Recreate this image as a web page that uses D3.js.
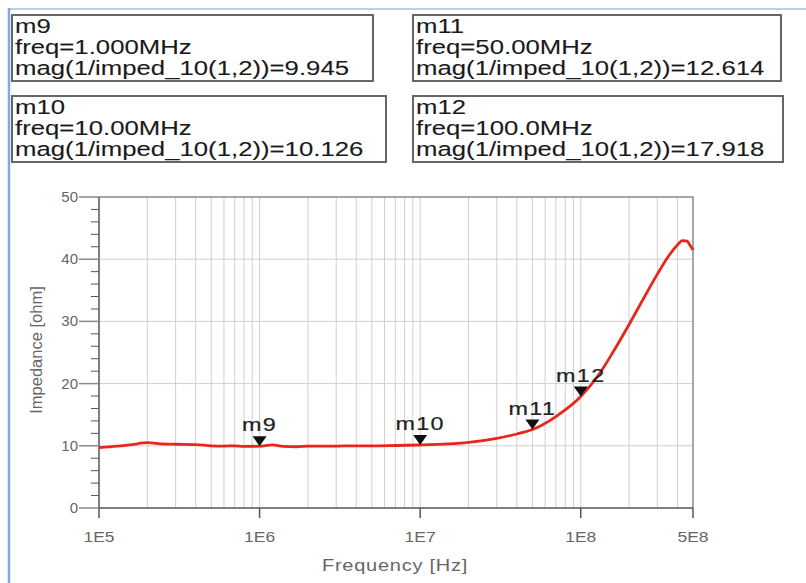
<!DOCTYPE html>
<html>
<head>
<meta charset="utf-8">
<script src="https://cdn.jsdelivr.net/npm/d3@7"></script>
<style>
  html, body { margin: 0; padding: 0; background: #fff; }
  svg { display: block; font-family: Arial, "Liberation Sans", sans-serif; }
</style>
</head>
<body>
<svg id="chart" width="806" height="583"></svg>
<script>
/* ── Data ──────────────────────────────────────────────────── */
const FREQ = [
  1e5, 1.3e5, 1.6e5, 2e5, 2.5e5, 3e5, 4e5, 5e5, 6e5, 7e5, 8e5,
  1e6, 1.2e6, 1.4e6, 1.7e6, 2e6, 3e6, 4e6, 5e6, 7e6,
  1e7, 1.5e7, 2e7, 3e7, 4e7, 5e7, 7e7,
  1e8, 1.3e8, 1.6e8, 2e8, 2.5e8, 3e8, 3.5e8, 4e8, 4.3e8, 4.6e8, 4.8e8, 5e8
];
const IMPED = [
  9.7, 9.95, 10.2, 10.5, 10.3, 10.25, 10.2, 10.0, 9.95, 10.0, 9.9,
  9.945, 10.15, 9.9, 9.85, 9.95, 9.95, 10.0, 10.0, 10.05,
  10.126, 10.3, 10.55, 11.2, 11.9, 12.614, 14.7,
  17.918, 21.5, 25.2, 29.5, 34.0, 37.6, 40.4, 42.3, 43.0, 42.9, 42.2, 41.5
];

const MARKER_NAMES = ["m9", "m10", "m11", "m12"];
const MARKER_FREQ  = [1e6, 1e7, 5e7, 1e8];
const MARKER_VAL   = [9.945, 10.126, 12.614, 17.918];
const MARKER_FTXT  = ["1.000MHz", "10.00MHz", "50.00MHz", "100.0MHz"];
const MARKER_VTXT  = ["9.945", "10.126", "12.614", "17.918"];

const X_TICKS  = [1e5, 1e6, 1e7, 1e8, 5e8];
const X_LABELS = ["1E5", "1E6", "1E7", "1E8", "5E8"];
const Y_TICKS  = [0, 10, 20, 30, 40, 50];

/* ── Layout ────────────────────────────────────────────────── */
const svg = d3.select("#chart");
const L = 99, R = 693, T = 197, B = 508;
const SX = 1.32;   /* the source screenshot is stretched horizontally */

const x = d3.scaleLog().domain([1e5, 5e8]).range([L, R]);
const y = d3.scaleLinear().domain([0, 50]).range([B, T]);

/* text helper: horizontally stretched label */
function wideText(parent, tx, ty, str, sx) {
  return parent.append("g")
    .attr("transform", `translate(${tx},${ty}) scale(${sx},1)`)
    .append("text").text(str);
}

/* window frame (blue edges) */
svg.append("line").attr("x1", 9).attr("x2", 806).attr("y1", 9).attr("y2", 9)
  .attr("stroke", "#b8cfee").attr("stroke-width", 2);
svg.append("line").attr("x1", 9).attr("x2", 9).attr("y1", 8).attr("y2", 583)
  .attr("stroke", "#86a9da").attr("stroke-width", 2.5);

/* ── Marker readout boxes ──────────────────────────────────── */
const BOX_POS = [[12, 15, 361], [12, 96, 374], [413, 15, 368], [413, 96, 370]];
MARKER_NAMES.forEach((name, i) => {
  const [bx, by, bw] = BOX_POS[i];
  const g = svg.append("g").attr("transform", `translate(${bx},${by})`);
  g.append("rect").attr("width", bw).attr("height", 66)
    .attr("fill", "#fff").attr("stroke", "#666").attr("stroke-width", 2);
  const lines = [name, "freq=" + MARKER_FTXT[i], "mag(1/imped_10(1,2))=" + MARKER_VTXT[i]];
  lines.forEach((t, k) => {
    wideText(g, 3, 18 + k * 21, t, SX)
      .attr("font-size", 19.5).attr("fill", "#1a1a1a")
      .attr("stroke", "#1a1a1a").attr("stroke-width", 0.1);
  });
});

/* ── Grid ──────────────────────────────────────────────────── */
const minor = [];
for (let d = 1e5; d < 5e8; d *= 10) {
  for (let m = 1; m <= 9; m++) {
    const f = d * m;
    if (f > 1e5 && f < 5e8) minor.push(f);
  }
}
svg.append("g").selectAll("line").data(minor).join("line")
  .attr("x1", d => x(d)).attr("x2", d => x(d))
  .attr("y1", T).attr("y2", B)
  .attr("stroke", "#cfcfcf").attr("stroke-width", 1);

svg.append("g").selectAll("line").data(Y_TICKS.slice(1, -1)).join("line")
  .attr("x1", L).attr("x2", R)
  .attr("y1", d => y(d)).attr("y2", d => y(d))
  .attr("stroke", "#cfcfcf").attr("stroke-width", 1);

/* plot frame top / right */
svg.append("path")
  .attr("d", `M${L},${T}H${R}V${B}`)
  .attr("fill", "none").attr("stroke", "#8a8a8a").attr("stroke-width", 1.5);

/* ── Axes ──────────────────────────────────────────────────── */
const yMinor = d3.range(0, 51, 2).filter(v => v % 10 !== 0);
const axisCol = "#555";

const yAxis = svg.append("g");
yAxis.append("line").attr("x1", L).attr("x2", L).attr("y1", T).attr("y2", B)
  .attr("stroke", axisCol).attr("stroke-width", 1.5);
yAxis.selectAll("line.maj").data(Y_TICKS).join("line").attr("class", "maj")
  .attr("x1", L - 20).attr("x2", L).attr("y1", d => y(d)).attr("y2", d => y(d))
  .attr("stroke", "#8a8a8a").attr("stroke-width", 1.5);
yAxis.selectAll("line.min").data(yMinor).join("line").attr("class", "min")
  .attr("x1", L - 8).attr("x2", L).attr("y1", d => y(d)).attr("y2", d => y(d))
  .attr("stroke", axisCol).attr("stroke-width", 1);
yAxis.selectAll("text").data(Y_TICKS).join("text")
  .attr("x", L - 21).attr("y", d => y(d) + 5)
  .attr("text-anchor", "end").attr("font-size", 15).attr("fill", "#666")
  .text(d => d);

const xAxis = svg.append("g");
xAxis.append("line").attr("x1", L).attr("x2", R).attr("y1", B).attr("y2", B)
  .attr("stroke", axisCol).attr("stroke-width", 1.5);
xAxis.selectAll("line.tk").data(X_TICKS).join("line").attr("class", "tk")
  .attr("x1", d => x(d)).attr("x2", d => x(d)).attr("y1", B).attr("y2", B + 10)
  .attr("stroke", axisCol).attr("stroke-width", 1.5);
X_TICKS.forEach((d, i) => {
  wideText(xAxis, x(d), B + 34, X_LABELS[i], 1.25)
    .attr("text-anchor", "middle").attr("font-size", 14).attr("fill", "#666");
});

wideText(svg, 395, 571, "Frequency [Hz]", 1.25)
  .attr("text-anchor", "middle").attr("font-size", 16).attr("fill", "#666")
  .attr("letter-spacing", 0.6);

svg.append("text").attr("transform", "translate(42,350) rotate(-90)")
  .attr("text-anchor", "middle").attr("font-size", 16.5).attr("fill", "#666")
  .attr("font-family", "'Liberation Sans Narrow', Arial, sans-serif")
  .text("Impedance [ohm]");

/* ── Curve ─────────────────────────────────────────────────── */
const pts = FREQ.map((f, i) => [f, IMPED[i]]);
const line = d3.line().x(d => x(d[0])).y(d => y(d[1])).curve(d3.curveMonotoneX);
svg.append("path").datum(pts).attr("d", line)
  .attr("fill", "none").attr("stroke", "#e8261b").attr("stroke-width", 2.8)
  .attr("stroke-linejoin", "round");

/* ── Markers on curve ──────────────────────────────────────── */
MARKER_NAMES.forEach((name, i) => {
  const px = x(MARKER_FREQ[i]), py = y(MARKER_VAL[i]);
  svg.append("path")
    .attr("d", `M${px - 7},${py - 10}L${px + 7},${py - 10}L${px},${py}Z`)
    .attr("fill", "#111");
  wideText(svg, px, py - 15, name, 1.3)
    .attr("text-anchor", "middle").attr("font-size", 18).attr("fill", "#222")
    .attr("stroke", "#222").attr("stroke-width", 0.2)
    .attr("letter-spacing", 1);
});
</script>
</body>
</html>
